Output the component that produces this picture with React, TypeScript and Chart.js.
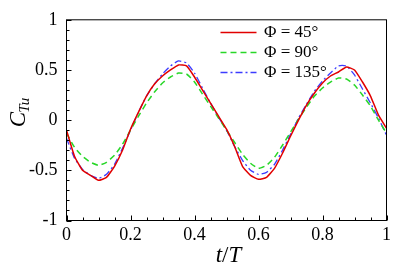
import React, { useEffect, useRef } from "react";
import { Chart, registerables } from "chart.js";

Chart.register(...registerables);

const tValues = [
  0, 0.025, 0.05, 0.075, 0.1, 0.125, 0.15, 0.175, 0.2, 0.225, 0.25, 0.275, 0.3, 0.325, 0.35, 0.375,
  0.4, 0.425, 0.45, 0.475, 0.5, 0.525, 0.55, 0.575, 0.6, 0.625, 0.65, 0.675, 0.7, 0.725, 0.75, 0.775,
  0.8, 0.825, 0.85, 0.875, 0.9, 0.925, 0.95, 0.975, 1.0,
];

const phi45 = [
  -0.1, -0.36, -0.5, -0.55, -0.6, -0.57, -0.46, -0.3, -0.09, 0.08, 0.24, 0.36, 0.44, 0.5, 0.55, 0.54,
  0.43, 0.3, 0.17, 0.04, -0.09, -0.26, -0.46, -0.55, -0.59, -0.57, -0.48, -0.33, -0.16, 0.0, 0.15, 0.27,
  0.37, 0.44, 0.48, 0.53, 0.5, 0.38, 0.24, 0.05, -0.08,
];

const phi90 = [
  -0.13, -0.27, -0.36, -0.42, -0.45, -0.42, -0.35, -0.24, -0.1, 0.04, 0.17, 0.28, 0.37, 0.43, 0.47, 0.46,
  0.38, 0.26, 0.14, 0.02, -0.1, -0.22, -0.34, -0.43, -0.48, -0.45, -0.37, -0.25, -0.12, 0.01, 0.13, 0.24,
  0.32, 0.38, 0.42, 0.41, 0.35, 0.25, 0.14, 0.0, -0.13,
];

const phi135 = [
  -0.18, -0.38, -0.49, -0.55, -0.58, -0.54, -0.44, -0.28, -0.1, 0.08, 0.24, 0.36, 0.46, 0.54, 0.59, 0.57,
  0.47, 0.32, 0.17, 0.03, -0.1, -0.26, -0.4, -0.5, -0.54, -0.52, -0.44, -0.3, -0.14, 0.02, 0.16, 0.29,
  0.39, 0.47, 0.54, 0.54, 0.45, 0.31, 0.17, 0.02, -0.15,
];

const seriesLabels = ["Φ = 45°", "Φ = 90°", "Φ = 135°"];
const seriesColors = ["rgb(225,0,0)", "rgb(40,215,40)", "rgb(60,60,255)"];
const seriesDashes: number[][] = [[], [6, 4], [7, 3, 2, 3]];

const xMajorStep = 0.2;
const xMinorStep = 0.05;
const yMajorStep = 0.5;
const yMinorStep = 0.1;

const SERIF = "'Liberation Serif', 'DejaVu Serif', serif";

const decorPlugin = {
  id: "decor",
  afterDraw(chart: any) {
    const ctx = chart.ctx as CanvasRenderingContext2D;
    const { left, right, top, bottom } = chart.chartArea;
    const xs = chart.scales.x;
    const ys = chart.scales.y;
    ctx.save();
    // frame
    ctx.strokeStyle = "#000";
    ctx.lineWidth = 1;
    ctx.setLineDash([]);
    ctx.strokeRect(left, top, right - left, bottom - top);
    // x ticks (inside)
    ctx.beginPath();
    for (let i = 0; i <= Math.round(1 / xMinorStep); i++) {
      const v = i * xMinorStep;
      const px = Math.round(xs.getPixelForValue(v)) + 0.5;
      const major = Math.abs(v / xMajorStep - Math.round(v / xMajorStep)) < 1e-6;
      const len = major ? 5 : 3;
      ctx.moveTo(px, bottom);
      ctx.lineTo(px, bottom - len);
    }
    for (let i = 0; i <= Math.round(2 / yMinorStep); i++) {
      const v = -1 + i * yMinorStep;
      const py = Math.round(ys.getPixelForValue(v)) + 0.5;
      const major = Math.abs(v / yMajorStep - Math.round(v / yMajorStep)) < 1e-6;
      const len = major ? 5 : 3;
      ctx.moveTo(left, py);
      ctx.lineTo(left + len, py);
    }
    ctx.stroke();

    // legend
    const lx0 = 220.5;
    const lx1 = 256.5;
    const tx = 264;
    const rows = [32, 52, 72];
    seriesLabels.forEach((lab, i) => {
      ctx.strokeStyle = seriesColors[i];
      ctx.lineWidth = 1.5;
      ctx.setLineDash(seriesDashes[i]);
      ctx.beginPath();
      ctx.moveTo(lx0, rows[i] + 0.5);
      ctx.lineTo(lx1, rows[i] + 0.5);
      ctx.stroke();
      ctx.setLineDash([]);
      ctx.fillStyle = "#000";
      ctx.font = `17px ${SERIF}`;
      ctx.textAlign = "left";
      ctx.textBaseline = "middle";
      ctx.fillText(lab, tx, rows[i] + 1);
    });

    // x axis title t/T
    ctx.fillStyle = "#000";
    ctx.textBaseline = "alphabetic";
    ctx.textAlign = "left";
    const partsX: [string, string][] = [
      ["t", `italic 23px ${SERIF}`],
      ["/", `23px ${SERIF}`],
      ["T", `italic 23px ${SERIF}`],
    ];
    let w = 0;
    partsX.forEach(([s, f]) => {
      ctx.font = f;
      w += ctx.measureText(s).width;
    });
    let cx = (left + right) / 2 - w / 2 + 2;
    partsX.forEach(([s, f]) => {
      ctx.font = f;
      ctx.fillText(s, cx, 262);
      cx += ctx.measureText(s).width;
    });

    // y axis title C_Tu
    ctx.save();
    ctx.translate(25, 0);
    ctx.rotate(-Math.PI / 2);
    ctx.font = `italic 23px ${SERIF}`;
    const wc = ctx.measureText("C").width;
    ctx.font = `italic 15px ${SERIF}`;
    const wsub = ctx.measureText("Tu").width;
    const total = wc + wsub;
    const centerY = 112;
    const startX = -centerY - total / 2;
    ctx.font = `italic 23px ${SERIF}`;
    ctx.fillText("C", startX, 0);
    ctx.font = `italic 15px ${SERIF}`;
    ctx.fillText("Tu", startX + wc - 1, 4);
    ctx.restore();

    ctx.restore();
  },
};

export default function App() {
  const canvasRef = useRef<HTMLCanvasElement | null>(null);

  useEffect(() => {
    document.body.style.margin = "0";
    const canvas = canvasRef.current;
    if (!canvas) return;
    const seriesValues = [phi45, phi90, phi135];
    const chart = new Chart(canvas, {
      type: "line",
      data: {
        datasets: seriesValues.map((vals, i) => ({
          label: seriesLabels[i],
          data: tValues.map((t, j) => ({ x: t, y: vals[j] })),
          borderColor: seriesColors[i],
          backgroundColor: seriesColors[i],
          borderWidth: i === 2 ? 1.3 : 1.5,
          borderDash: seriesDashes[i],
          pointRadius: 0,
          tension: 0.15,
          fill: false,
        })),
      },
      options: {
        responsive: false,
        animation: false,
        events: [],
        layout: { padding: { top: 15.5, right: 20.5, left: 0, bottom: 0 } },
        plugins: {
          legend: { display: false },
          tooltip: { enabled: false },
          title: { display: false },
        },
        scales: {
          x: {
            type: "linear",
            min: 0,
            max: 1,
            grid: { display: false, drawTicks: false },
            border: { display: false },
            ticks: {
              stepSize: xMajorStep,
              color: "#000",
              font: { family: SERIF, size: 18 },
              padding: 4,
              maxRotation: 0,
              callback: (v: any) => String(Math.round(Number(v) * 10) / 10),
            },
            afterFit: (scale: any) => {
              scale.height = 51.5;
            },
          },
          y: {
            type: "linear",
            min: -1,
            max: 1,
            grid: { display: false, drawTicks: false },
            border: { display: false },
            ticks: {
              stepSize: yMajorStep,
              color: "#000",
              font: { family: SERIF, size: 18 },
              padding: 9,
              callback: (v: any) => String(Math.round(Number(v) * 10) / 10),
            },
            afterFit: (scale: any) => {
              scale.width = 66.5;
            },
          },
        },
      },
      plugins: [decorPlugin],
    } as any);
    return () => chart.destroy();
  }, []);

  return (
    <div style={{ position: "absolute", left: 0, top: 0, width: 407, height: 272, background: "#fff" }}>
      <canvas ref={canvasRef} width={407} height={272} style={{ display: "block" }} />
    </div>
  );
}
